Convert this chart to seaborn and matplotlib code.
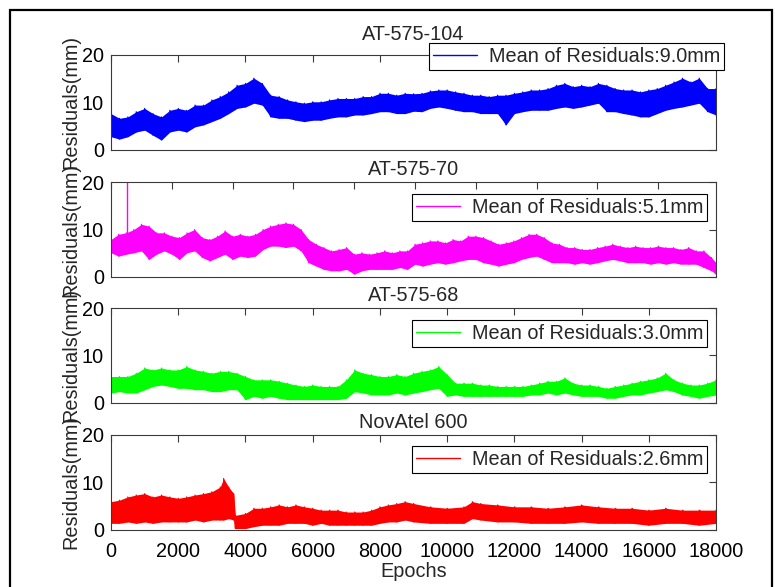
import numpy as np
import pandas as pd
import matplotlib
matplotlib.use("Agg")
import matplotlib.pyplot as plt
import seaborn as sns
from matplotlib.patches import Rectangle

# ---------------- data ----------------
titles = ["AT-575-104", "AT-575-70", "AT-575-68", "NovAtel 600"]
legend_labels = ["Mean of Residuals:9.0mm", "Mean of Residuals:5.1mm",
                 "Mean of Residuals:3.0mm", "Mean of Residuals:2.6mm"]
colors = ["#0000ff", "#ff00ff", "#00ff00", "#ff0000"]
x_ticks = [0, 2000, 4000, 6000, 8000, 10000, 12000, 14000, 16000, 18000]
y_ticks = [0, 10, 20]

# AT-575-104 : epochs, upper and lower edge of the residual band (mm)
ep1 = [0, 250, 500, 750, 1000, 1250, 1500, 1750, 2000, 2250, 2500, 2750, 3000, 3250,
       3500, 3750, 4000, 4250, 4500, 4750, 5000, 5250, 5500, 5750, 6000, 6250, 6500,
       6750, 7000, 7250, 7500, 7750, 8000, 8250, 8500, 8750, 9000, 9250, 9500, 9750,
       10000, 10250, 10500, 10750, 11000, 11250, 11500, 11750, 12000, 12250, 12500,
       12750, 13000, 13250, 13500, 13750, 14000, 14250, 14500, 14750, 15000, 15250,
       15500, 15750, 16000, 16250, 16500, 16750, 17000, 17250, 17500, 17750, 18000]
hi1 = [7.6, 6.6, 6.9, 8.0, 8.7, 7.6, 6.9, 8.3, 8.7, 8.3, 9.4, 9.4, 10.5, 11.2,
       12.2, 13.6, 14.0, 15.1, 14.0, 11.5, 11.2, 10.5, 10.1, 9.8, 10.1, 10.1, 10.5,
       10.8, 10.8, 10.8, 11.2, 11.2, 11.9, 11.9, 11.5, 11.9, 11.8, 11.9, 12.4, 12.6,
       12.6, 12.2, 11.9, 11.5, 11.5, 11.2, 11.5, 11.5, 11.9, 12.2, 12.6,
       12.6, 12.9, 13.6, 14.0, 13.3, 13.6, 13.3, 14.0, 13.6, 12.9, 12.6,
       12.6, 12.2, 12.6, 12.9, 13.6, 14.3, 15.1, 14.3, 15.1, 12.9, 12.9]
lo1 = [2.7, 2.2, 2.7, 3.7, 4.1, 3.0, 2.0, 3.7, 4.1, 3.7, 4.8, 5.2, 5.9, 6.6,
       7.6, 8.7, 9.0, 9.8, 9.4, 6.9, 6.6, 6.6, 6.2, 5.9, 6.2, 6.2, 6.6,
       6.9, 6.9, 7.3, 7.3, 7.6, 8.0, 8.0, 7.6, 7.6, 8.1, 8.0, 8.7, 9.0,
       8.7, 8.3, 8.0, 8.0, 7.6, 7.6, 7.6, 5.2, 7.6, 8.0, 8.3,
       8.3, 8.3, 8.7, 9.0, 8.7, 9.0, 9.4, 9.8, 8.0, 8.0, 7.6,
       7.3, 6.9, 6.9, 7.6, 8.3, 8.7, 9.0, 9.4, 9.8, 8.0, 7.3]

# AT-575-70
ep2 = [0, 250, 500, 750, 1000, 1250, 1500, 1750, 2000, 2250, 2500, 2750, 3000, 3250,
       3500, 3750, 4000, 4250, 4500, 4750, 5000, 5250, 5500, 5750, 6000, 6250, 6500,
       6750, 7000, 7250, 7500, 7750, 8000, 8250, 8500, 8750, 9000, 9250, 9500, 9750,
       10000, 10250, 10500, 10750, 11000, 11250, 11500, 11750, 12000, 12250, 12500,
       12750, 13000, 13250, 13500, 13750, 14000, 14250, 14500, 14750, 15000, 15250,
       15500, 15750, 16000, 16250, 16500, 16750, 17000, 17250, 17500, 17750, 18000,
       18250, 18500, 18750, 19000, 19250, 19500, 19750, 19900]
hi2 = [7.9, 9.0, 9.3, 10.0, 11.1, 10.7, 9.3, 9.3, 8.6, 8.3, 9.3, 10.0, 8.3, 7.9,
       8.6, 9.7, 8.6, 9.0, 8.6, 9.0, 10.0, 10.7, 11.1, 11.4, 11.1, 10.0, 7.9,
       6.9, 6.2, 5.5, 5.8, 6.2, 4.8, 5.1, 4.8, 5.1, 5.5, 5.1, 5.5, 5.5,
       6.9, 7.2, 7.6, 7.6, 7.2, 7.9, 7.6, 8.6, 8.6, 8.3, 7.6,
       6.9, 7.2, 7.6, 8.3, 9.0, 9.0, 8.3, 7.2, 6.9, 6.2, 6.2,
       5.8, 5.8, 6.2, 6.5, 6.9, 6.5, 6.2, 6.5, 6.2, 6.2, 6.5,
       6.2, 6.2, 5.8, 6.2, 5.5, 5.5, 4.1, 3.0]
lo2 = [5.1, 4.4, 4.8, 5.1, 5.5, 3.7, 4.8, 5.5, 4.8, 3.7, 5.1, 5.5, 4.1, 3.4,
       4.1, 4.8, 3.7, 4.4, 4.1, 4.4, 5.8, 6.5, 6.5, 6.2, 6.5, 5.5, 3.0,
       2.3, 1.6, 1.3, 1.3, 1.6, 0.6, 1.3, 1.6, 1.6, 1.6, 1.6, 2.0, 1.6,
       2.7, 2.3, 2.7, 3.0, 2.7, 3.0, 3.4, 3.7, 3.7, 3.0, 2.7,
       2.3, 2.7, 3.0, 3.7, 4.1, 4.4, 3.7, 3.0, 3.0, 3.0, 2.7,
       3.0, 2.7, 3.0, 3.4, 3.7, 3.4, 3.0, 3.0, 3.0, 2.7, 3.0,
       2.7, 3.0, 2.7, 2.7, 2.7, 2.0, 1.3, 0.6]
spike2_ep = [530]
spike2_lo = [8.0]
spike2_hi = [21.0]

# AT-575-68
ep3 = ep1
hi3 = [5.5, 5.5, 5.5, 6.2, 7.3, 6.9, 7.3, 6.9, 6.9, 7.6, 6.9, 6.6, 6.2, 6.6,
       6.6, 6.2, 5.5, 4.8, 4.8, 4.8, 4.5, 4.1, 3.7, 3.4, 3.7, 3.4, 3.4,
       3.4, 4.8, 6.9, 6.2, 5.9, 5.5, 5.5, 5.9, 5.5, 6.2, 6.6, 6.9, 7.6,
       5.9, 4.1, 4.1, 4.1, 3.7, 3.7, 3.4, 3.4, 3.4, 3.4, 3.7,
       4.1, 4.5, 4.5, 5.2, 4.1, 3.7, 3.7, 3.4, 3.0, 3.4, 3.7,
       4.1, 4.5, 4.8, 5.2, 6.2, 4.8, 4.1, 3.7, 3.7, 4.1, 4.8]
lo3 = [2.0, 2.3, 2.0, 2.0, 2.7, 3.4, 3.7, 3.4, 3.0, 3.0, 2.7, 2.7, 2.3, 2.3,
       2.7, 2.7, 0.6, 1.3, 0.9, 1.3, 0.9, 0.6, 0.6, 0.6, 0.6, 0.6, 0.6,
       0.6, 0.9, 2.3, 2.0, 1.6, 1.6, 1.6, 2.0, 1.6, 2.0, 2.3, 2.7, 3.0,
       1.3, 1.6, 1.3, 1.3, 1.3, 1.3, 1.3, 1.3, 1.3, 1.3, 1.6,
       1.6, 2.0, 1.6, 2.0, 1.6, 1.3, 1.3, 1.3, 0.9, 0.9, 1.3,
       1.6, 1.6, 2.0, 2.3, 2.7, 2.3, 1.6, 1.3, 0.9, 1.3, 1.6]

# NovAtel 600
ep4 = [0, 250, 500, 750, 1000, 1250, 1500, 1750, 2000, 2250, 2500, 2750, 3000, 3250,
       3350, 3500, 3650, 3700, 4000, 4250, 4500, 4750, 5000, 5250, 5500, 5750, 6000,
       6250, 6500, 6750, 7000, 7250, 7500, 7750, 8000, 8250, 8500, 8750, 9000, 9500,
       10000, 10500, 10750, 11000, 11500, 12000, 12500, 13000, 13500, 14000, 14500,
       15000, 15500, 16000, 16500, 17000, 17500, 18000]
hi4 = [5.9, 6.2, 6.9, 7.3, 7.6, 6.9, 7.3, 6.9, 6.6, 6.9, 7.3, 7.6, 8.0, 9.0,
       10.8, 9.0, 7.6, 3.0, 3.4, 4.5, 4.5, 4.8, 5.2, 4.8, 5.2, 4.8, 4.5,
       4.1, 4.1, 4.1, 3.7, 3.7, 3.7, 4.1, 4.8, 5.2, 5.5, 5.9, 5.5, 4.8,
       4.5, 4.8, 5.9, 5.5, 5.2, 4.8, 4.8, 4.5, 4.8, 5.2, 4.8,
       4.5, 4.5, 4.1, 4.5, 4.1, 4.1, 4.1]
lo4 = [1.3, 1.3, 1.6, 1.3, 1.6, 1.3, 1.6, 1.6, 1.6, 1.6, 2.0, 1.6, 2.0, 2.0,
       2.0, 2.3, 2.0, 0.2, 0.2, 0.6, 0.9, 0.9, 0.9, 1.3, 1.3, 1.3, 0.9,
       1.3, 0.9, 0.9, 0.9, 0.9, 0.9, 0.9, 1.3, 1.6, 1.6, 2.0, 1.6, 1.3,
       1.3, 1.3, 2.3, 2.0, 1.6, 1.6, 1.3, 1.3, 1.3, 1.6, 1.3,
       1.3, 1.3, 0.9, 1.3, 1.3, 0.9, 1.3]

series = [(ep1, hi1, lo1), (ep2, hi2, lo2), (ep3, hi3, lo3), (ep4, hi4, lo4)]
x_max = [18000, 19900, 18000, 18000]

# ---------------- layout ----------------
sns.set_theme(style="white")
plt.rcParams["font.family"] = ["Liberation Sans", "DejaVu Sans"]
FS = 14.3
W, H = 775, 587
fig = plt.figure(figsize=(W / 100, H / 100), dpi=100)

ax_px = [(55, 149.5), (182, 277), (308, 402.5), (435, 529.5)]   # top, bottom
title_pad = [11, 5, 5, 5]
leg_anchor = [(1.013, 1.128), (0.985, 0.874), (0.985, 0.872), (0.985, 0.884)]
spine_col = "#3a3a3a"

for i, ((ep, hi, lo), (t, b)) in enumerate(zip(series, ax_px)):
    ax = fig.add_axes([111 / W, 1 - b / H, 605 / W, (b - t) / H])
    c = colors[i]
    ep = np.asarray(ep, float)
    hi = np.asarray(hi, float)
    lo = np.asarray(lo, float)
    ax.fill_between(ep, lo, hi, color=c, lw=0)
    zx = np.repeat(ep, 2)
    zy = np.column_stack([lo, hi]).ravel()
    sns.lineplot(x=zx, y=zy, sort=False, estimator=None, color=c, lw=0.8,
                 ax=ax, label=legend_labels[i])
    if i == 1:
        ax.vlines(spike2_ep, spike2_lo, spike2_hi, color=c, lw=1)
    ax.set_xlim(0, x_max[i])
    ax.set_ylim(0, 20)
    ax.set_yticks(y_ticks)
    ax.set_xticks([v for v in range(0, x_max[i] + 1, 2000)])
    if i == 3:
        ax.set_xticklabels([str(v) for v in x_ticks])
        ax.set_xlabel("Epochs", fontsize=FS)
        ax.xaxis.set_label_coords(0.5, -0.345)
    else:
        ax.set_xticklabels([])
        ax.set_xlabel("")
    ax.set_ylabel("Residuals(mm)", fontsize=FS)
    ax.yaxis.set_label_coords(-0.05, 0.5)
    ax.set_title(titles[i], fontsize=FS, pad=title_pad[i])
    ax.tick_params(direction="in", top=True, right=True, length=5, width=0.8,
                   color=spine_col, labelcolor="black", labelsize=FS)
    ax.tick_params(axis="y", pad=5)
    ax.tick_params(axis="x", pad=9)
    for s in ax.spines.values():
        s.set_color(spine_col)
        s.set_linewidth(0.8)
        s.set_visible(True)
    leg = ax.legend(loc="upper right", bbox_to_anchor=leg_anchor[i], frameon=True,
                    fancybox=False, edgecolor="black", framealpha=1, borderaxespad=0,
                    fontsize=FS, handlelength=2.2, handletextpad=0.6, borderpad=0.2)
    leg.get_frame().set_linewidth(0.8)
    for ln in leg.get_lines():
        ln.set_linewidth(1.0)

fig.patches.append(Rectangle((10 / W, -0.05), 762 / W, 1 - 10 / H + 0.05,
                             transform=fig.transFigure, fill=False, edgecolor="black",
                             lw=1.6, clip_on=False))

fig.savefig("out.png", dpi=100)
